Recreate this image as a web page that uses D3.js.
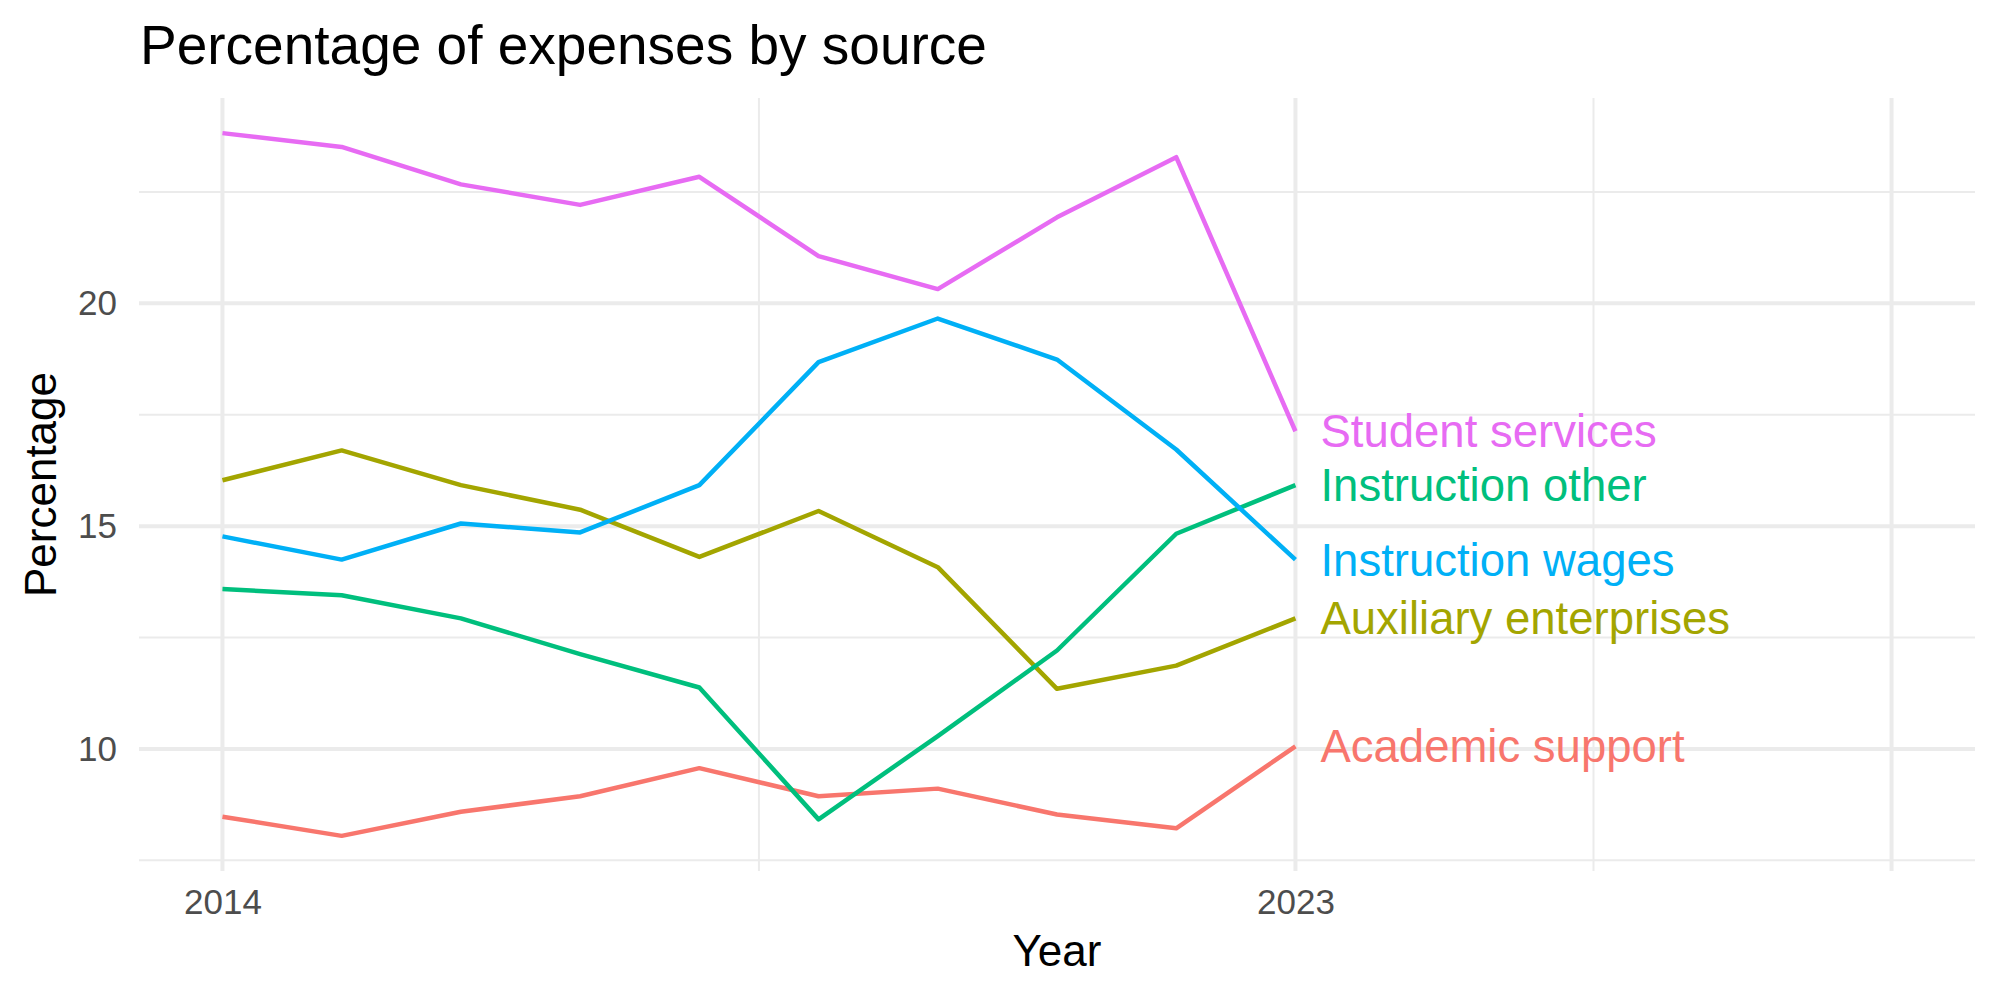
<!DOCTYPE html>
<html>
<head>
<meta charset="utf-8">
<script src="https://cdn.jsdelivr.net/npm/d3@7"></script>
<style>
  body { margin: 0; background: #fff; }
  text { font-family: "Liberation Sans", Arial, Helvetica, sans-serif; }
</style>
</head>
<body>
<svg id="chart"></svg>
<script>
// ============================================ DATA ============================================
const years = [2014, 2015, 2016, 2017, 2018, 2019, 2020, 2021, 2022, 2023];
const sources = ["Academic support", "Auxiliary enterprises", "Instruction other", "Instruction wages", "Student services"];
const academicSupport      = [8.48, 8.05, 8.59, 8.94, 9.57, 8.94, 9.11, 8.53, 8.22, 10.06];
const auxiliaryEnterprises = [16.03, 16.70, 15.92, 15.37, 14.31, 15.34, 14.08, 11.35, 11.87, 12.93];
const instructionOther     = [13.59, 13.45, 12.93, 12.13, 11.38, 8.42, 10.29, 12.21, 14.83, 15.92];
const instructionWages     = [14.77, 14.25, 15.06, 14.86, 15.92, 18.68, 19.66, 18.74, 16.72, 14.25];
const studentServices      = [23.82, 23.51, 22.67, 22.21, 22.84, 21.06, 20.32, 21.93, 23.28, 17.13];
const colors = ["#F8766D", "#A3A500", "#00BF7D", "#00B0F6", "#E76BF3"];

const xLimits = [2014, 2028];
const xLabelTicks = [2014, 2023];
const xMajor = [2014, 2023, 2028];
const xMinor = [2018.5, 2025.5];
const yTicks = [10, 15, 20];
const yMinor = [7.5, 12.5, 17.5, 22.5];
// ==============================================================================================

const seriesValues = [academicSupport, auxiliaryEnterprises, instructionOther, instructionWages, studentServices];
const series = sources.map((name, i) => ({
    name: name,
    color: colors[i],
    values: years.map((y, j) => ({year: y, value: seriesValues[i][j]}))
}));

var width = 2000;
var height = 1000;
var panel = {left: 139, right: 1975, top: 98, bottom: 871};

// ========================================= SCALES ===========================================
var xPad = 0.05 * (xLimits[1] - xLimits[0]);
const xs = d3.scaleLinear()
    .domain([xLimits[0] - xPad, xLimits[1] + xPad])
    .range([panel.left, panel.right]);

const allValues = seriesValues.flat();
const yExt = d3.extent(allValues);
var yPad = 0.05 * (yExt[1] - yExt[0]);
const ys = d3.scaleLinear()
    .domain([yExt[0] - yPad, yExt[1] + yPad])
    .range([panel.bottom, panel.top]);

const line = d3.line()
    .x(d => xs(d.year))
    .y(d => ys(d.value));

// ========================================= CANVAS ===========================================
const svg = d3.select("#chart")
    .attr("width", width)
    .attr("height", height);

svg.append("rect").attr("width", width).attr("height", height).attr("fill", "#fff");

// ========================================= GRID =============================================
const grid = svg.append("g");

grid.selectAll(".yminor").data(yMinor).join("line")
    .attr("x1", panel.left).attr("x2", panel.right)
    .attr("y1", d => ys(d)).attr("y2", d => ys(d))
    .attr("stroke", "#EBEBEB").attr("stroke-width", 2);

grid.selectAll(".xminor").data(xMinor).join("line")
    .attr("x1", d => xs(d)).attr("x2", d => xs(d))
    .attr("y1", panel.top).attr("y2", panel.bottom)
    .attr("stroke", "#EBEBEB").attr("stroke-width", 2);

grid.selectAll(".ymajor").data(yTicks).join("line")
    .attr("x1", panel.left).attr("x2", panel.right)
    .attr("y1", d => ys(d)).attr("y2", d => ys(d))
    .attr("stroke", "#EBEBEB").attr("stroke-width", 4);

grid.selectAll(".xmajor").data(xMajor).join("line")
    .attr("x1", d => xs(d)).attr("x2", d => xs(d))
    .attr("y1", panel.top).attr("y2", panel.bottom)
    .attr("stroke", "#EBEBEB").attr("stroke-width", 4);

// ========================================= LINES ============================================
svg.append("g").selectAll("path").data(series).join("path")
    .attr("fill", "none")
    .attr("stroke", d => d.color)
    .attr("stroke-width", 4.5)
    .attr("stroke-linejoin", "round")
    .attr("d", d => line(d.values));

// end labels
svg.append("g").selectAll("text").data(series).join("text")
    .attr("x", d => xs(d.values[d.values.length - 1].year) + 25)
    .attr("y", d => ys(d.values[d.values.length - 1].value))
    .attr("dy", "0.35em")
    .attr("fill", d => d.color)
    .style("font-size", "45.5px")
    .text(d => d.name);

// ========================================= AXES =============================================
const xAxis = svg.append("g")
    .attr("transform", "translate(0," + panel.bottom + ")")
    .call(d3.axisBottom(xs).tickValues(xLabelTicks).tickFormat(d3.format("d")).tickSize(0).tickPadding(18));
xAxis.select(".domain").remove();
xAxis.selectAll("text").style("font-size", "35px").attr("fill", "#4D4D4D");

const yAxis = svg.append("g")
    .attr("transform", "translate(" + panel.left + ",0)")
    .call(d3.axisLeft(ys).tickValues(yTicks).tickSize(0).tickPadding(22));
yAxis.select(".domain").remove();
yAxis.selectAll("text").style("font-size", "35px").attr("fill", "#4D4D4D");

// ======================================= AXIS TITLES ========================================
svg.append("text")
    .attr("text-anchor", "middle")
    .attr("x", (panel.left + panel.right) / 2)
    .attr("y", 966)
    .style("font-size", "44px")
    .attr("fill", "#000")
    .text("Year");

svg.append("text")
    .attr("text-anchor", "middle")
    .attr("transform", "translate(56," + ((panel.top + panel.bottom) / 2) + ") rotate(-90)")
    .style("font-size", "44px")
    .attr("fill", "#000")
    .text("Percentage");

svg.append("text")
    .attr("x", 140)
    .attr("y", 64)
    .style("font-size", "55px")
    .attr("fill", "#000")
    .text("Percentage of expenses by source");
</script>
</body>
</html>
